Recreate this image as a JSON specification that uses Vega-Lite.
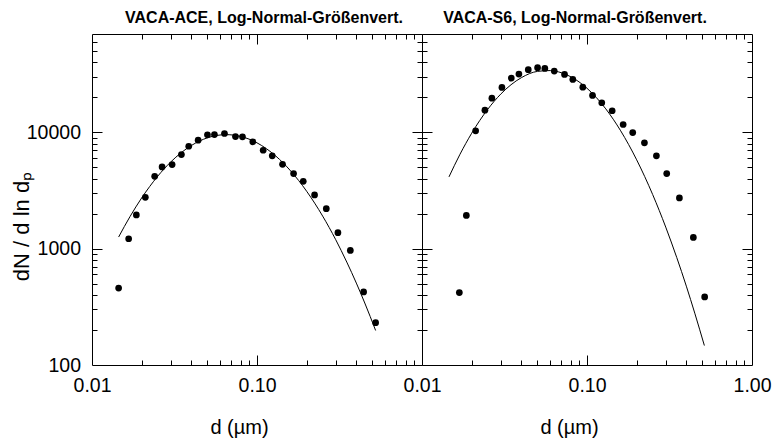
{
  "$schema": "https://vega.github.io/schema/vega-lite/v6.json",
  "background": "white",
  "padding": {"left": 9, "top": 9, "right": 0, "bottom": 0},
  "spacing": 0,
  "bounds": "flush",
  "datasets": {
    "acePts": [
      {"d": 0.0145, "n": 458}, {"d": 0.01668, "n": 1217}, {"d": 0.01857, "n": 1948}, {"d": 0.02105, "n": 2761},
      {"d": 0.02398, "n": 4187}, {"d": 0.02659, "n": 5044}, {"d": 0.03059, "n": 5280}, {"d": 0.03483, "n": 6440},
      {"d": 0.03857, "n": 7593}, {"d": 0.04398, "n": 8551}, {"d": 0.05008, "n": 9517}, {"d": 0.05522, "n": 9573},
      {"d": 0.06352, "n": 9765}, {"d": 0.07405, "n": 9200}, {"d": 0.08166, "n": 9146}, {"d": 0.0943, "n": 8284},
      {"d": 0.109, "n": 7013}, {"d": 0.1237, "n": 6275}, {"d": 0.1428, "n": 5311}, {"d": 0.1666, "n": 4417},
      {"d": 0.1907, "n": 3791}, {"d": 0.2233, "n": 2895}, {"d": 0.263, "n": 2207}, {"d": 0.3093, "n": 1371},
      {"d": 0.3678, "n": 965}, {"d": 0.4428, "n": 425}, {"d": 0.5236, "n": 231}
    ],
    "aceFit": [
      {"d": 0.0145, "n": 1259}, {"d": 0.017, "n": 1888}, {"d": 0.02, "n": 2729}, {"d": 0.025, "n": 4188},
      {"d": 0.03, "n": 5559}, {"d": 0.04, "n": 7701}, {"d": 0.05, "n": 8963}, {"d": 0.065, "n": 9550},
      {"d": 0.08, "n": 9204}, {"d": 0.1, "n": 8120}, {"d": 0.13, "n": 6252}, {"d": 0.16, "n": 4656},
      {"d": 0.2, "n": 3114}, {"d": 0.25, "n": 1905}, {"d": 0.3, "n": 1194}, {"d": 0.35, "n": 767},
      {"d": 0.4, "n": 506}, {"d": 0.45, "n": 341}, {"d": 0.5236, "n": 198}
    ],
    "s6Pts": [
      {"d": 0.01684, "n": 419}, {"d": 0.01857, "n": 1932}, {"d": 0.02114, "n": 10301}, {"d": 0.02406, "n": 15500},
      {"d": 0.02652, "n": 19668}, {"d": 0.03051, "n": 24311}, {"d": 0.03477, "n": 29240}, {"d": 0.03866, "n": 31650},
      {"d": 0.04406, "n": 34540}, {"d": 0.05017, "n": 35940}, {"d": 0.05553, "n": 35440}, {"d": 0.06332, "n": 33600},
      {"d": 0.07309, "n": 31460}, {"d": 0.08204, "n": 28500}, {"d": 0.09432, "n": 24450}, {"d": 0.108, "n": 20750},
      {"d": 0.1229, "n": 17960}, {"d": 0.1421, "n": 15320}, {"d": 0.1656, "n": 11673}, {"d": 0.1893, "n": 9960},
      {"d": 0.2229, "n": 8121}, {"d": 0.2634, "n": 6275}, {"d": 0.3042, "n": 4417}, {"d": 0.3631, "n": 2728},
      {"d": 0.4412, "n": 1249}, {"d": 0.5166, "n": 385}
    ],
    "s6Fit": [
      {"d": 0.01457, "n": 4140}, {"d": 0.017, "n": 6484}, {"d": 0.02, "n": 9817}, {"d": 0.025, "n": 15740},
      {"d": 0.03, "n": 21300}, {"d": 0.04, "n": 29490}, {"d": 0.05, "n": 33380}, {"d": 0.06, "n": 33950},
      {"d": 0.07, "n": 32490}, {"d": 0.08, "n": 29960}, {"d": 0.1, "n": 23910}, {"d": 0.13, "n": 15900},
      {"d": 0.16, "n": 10300}, {"d": 0.2, "n": 5800}, {"d": 0.25, "n": 2919}, {"d": 0.3, "n": 1532},
      {"d": 0.35, "n": 838}, {"d": 0.4, "n": 476}, {"d": 0.45, "n": 279}, {"d": 0.5144, "n": 147}
    ]
  },
  "hconcat": [
    {
      "title": {"text": "VACA-ACE, Log-Normal-Größenvert.", "dx": 7},
      "width": 330,
      "height": 331,
      "resolve": {"axis": {"x": "independent", "y": "independent"}},
      "layer": [
        {
          "data": {"name": "aceFit"},
          "mark": {"type": "line", "color": "black", "strokeWidth": 1, "interpolate": "monotone"},
          "encoding": {
            "x": {"field": "d", "type": "quantitative", "scale": {"type": "log", "domain": [0.01, 1], "nice": false},
                  "axis": {"orient": "bottom", "values": [0.01, 0.1], "format": ".2f", "ticks": false, "labelPadding": 11,
                           "title": "d (µm)", "titleX": 147, "titleY": 68, "titleBaseline": "alphabetic", "titleAlign": "center"}},
            "y": {"field": "n", "type": "quantitative", "scale": {"type": "log", "domain": [100, 70000], "nice": false},
                  "axis": {"orient": "left", "values": [100, 1000, 10000], "format": "d", "ticks": false, "labelPadding": 11.5,
                           "title": "dN / d ln dₚ", "titleFontSize": 22, "titleX": -64, "titleY": 192, "titleBaseline": "alphabetic", "titleAlign": "center"}}
          }
        },
        {
          "data": {"name": "acePts"},
          "mark": {"type": "circle", "color": "black", "opacity": 1, "size": 45},
          "encoding": {
            "x": {"field": "d", "type": "quantitative", "scale": {"type": "log", "domain": [0.01, 1], "nice": false},
                  "axis": {"orient": "bottom", "values": [0.02, 0.03, 0.04, 0.05, 0.06, 0.07, 0.08, 0.09, 0.2, 0.3, 0.4, 0.5, 0.6, 0.7, 0.8, 0.9], "labels": false, "tickSize": -5, "title": null}},
            "y": {"field": "n", "type": "quantitative", "scale": {"type": "log", "domain": [100, 70000], "nice": false},
                  "axis": {"orient": "left", "values": [200, 300, 400, 500, 600, 700, 800, 900, 2000, 3000, 4000, 5000, 6000, 7000, 8000, 9000, 20000, 30000, 40000, 50000, 60000], "labels": false, "tickSize": -5, "title": null}}
          }
        },
        {
          "data": {"name": "acePts"},
          "mark": {"type": "circle", "opacity": 0},
          "encoding": {
            "x": {"field": "d", "type": "quantitative", "scale": {"type": "log", "domain": [0.01, 1], "nice": false},
                  "axis": {"orient": "bottom", "values": [0.1], "labels": false, "tickSize": -10, "title": null}},
            "y": {"field": "n", "type": "quantitative", "scale": {"type": "log", "domain": [100, 70000], "nice": false},
                  "axis": {"orient": "left", "values": [1000, 10000], "labels": false, "tickSize": -10, "title": null}}
          }
        },
        {
          "data": {"name": "acePts"},
          "mark": {"type": "circle", "opacity": 0},
          "encoding": {
            "x": {"field": "d", "type": "quantitative", "scale": {"type": "log", "domain": [0.01, 1], "nice": false},
                  "axis": {"orient": "top", "values": [0.02, 0.03, 0.04, 0.05, 0.06, 0.07, 0.08, 0.09, 0.2, 0.3, 0.4, 0.5, 0.6, 0.7, 0.8, 0.9], "labels": false, "tickSize": -5, "title": null}},
            "y": {"field": "n", "type": "quantitative", "scale": {"type": "log", "domain": [100, 70000], "nice": false},
                  "axis": {"orient": "right", "values": [200, 300, 400, 500, 600, 700, 800, 900, 2000, 3000, 4000, 5000, 6000, 7000, 8000, 9000, 20000, 30000, 40000, 50000, 60000], "labels": false, "tickSize": -5, "title": null}}
          }
        },
        {
          "data": {"name": "acePts"},
          "mark": {"type": "circle", "opacity": 0},
          "encoding": {
            "x": {"field": "d", "type": "quantitative", "scale": {"type": "log", "domain": [0.01, 1], "nice": false},
                  "axis": {"orient": "top", "values": [0.1], "labels": false, "tickSize": -10, "title": null}},
            "y": {"field": "n", "type": "quantitative", "scale": {"type": "log", "domain": [100, 70000], "nice": false},
                  "axis": {"orient": "right", "values": [1000, 10000], "labels": false, "tickSize": -10, "title": null}}
          }
        }
      ]
    },
    {
      "title": {"text": "VACA-S6, Log-Normal-Größenvert.", "dx": -12},
      "width": 330,
      "height": 331,
      "resolve": {"axis": {"x": "independent", "y": "independent"}},
      "layer": [
        {
          "data": {"name": "s6Fit"},
          "mark": {"type": "line", "color": "black", "strokeWidth": 1, "interpolate": "monotone"},
          "encoding": {
            "x": {"field": "d", "type": "quantitative", "scale": {"type": "log", "domain": [0.01, 1], "nice": false},
                  "axis": {"orient": "bottom", "values": [0.01, 0.1, 1], "format": ".2f", "ticks": false, "labelPadding": 11,
                           "title": "d (µm)", "titleX": 147, "titleY": 68, "titleBaseline": "alphabetic", "titleAlign": "center"}},
            "y": {"field": "n", "type": "quantitative", "scale": {"type": "log", "domain": [100, 70000], "nice": false},
                  "axis": null}
          }
        },
        {
          "data": {"name": "s6Pts"},
          "mark": {"type": "circle", "color": "black", "opacity": 1, "size": 45},
          "encoding": {
            "x": {"field": "d", "type": "quantitative", "scale": {"type": "log", "domain": [0.01, 1], "nice": false},
                  "axis": {"orient": "bottom", "values": [0.02, 0.03, 0.04, 0.05, 0.06, 0.07, 0.08, 0.09, 0.2, 0.3, 0.4, 0.5, 0.6, 0.7, 0.8, 0.9], "labels": false, "tickSize": -5, "title": null}},
            "y": {"field": "n", "type": "quantitative", "scale": {"type": "log", "domain": [100, 70000], "nice": false},
                  "axis": {"orient": "left", "values": [200, 300, 400, 500, 600, 700, 800, 900, 2000, 3000, 4000, 5000, 6000, 7000, 8000, 9000, 20000, 30000, 40000, 50000, 60000], "labels": false, "tickSize": -5, "title": null}}
          }
        },
        {
          "data": {"name": "s6Pts"},
          "mark": {"type": "circle", "opacity": 0},
          "encoding": {
            "x": {"field": "d", "type": "quantitative", "scale": {"type": "log", "domain": [0.01, 1], "nice": false},
                  "axis": {"orient": "bottom", "values": [0.1], "labels": false, "tickSize": -10, "title": null}},
            "y": {"field": "n", "type": "quantitative", "scale": {"type": "log", "domain": [100, 70000], "nice": false},
                  "axis": {"orient": "left", "values": [1000, 10000], "labels": false, "tickSize": -10, "title": null}}
          }
        },
        {
          "data": {"name": "s6Pts"},
          "mark": {"type": "circle", "opacity": 0},
          "encoding": {
            "x": {"field": "d", "type": "quantitative", "scale": {"type": "log", "domain": [0.01, 1], "nice": false},
                  "axis": {"orient": "top", "values": [0.02, 0.03, 0.04, 0.05, 0.06, 0.07, 0.08, 0.09, 0.2, 0.3, 0.4, 0.5, 0.6, 0.7, 0.8, 0.9], "labels": false, "tickSize": -5, "title": null}},
            "y": {"field": "n", "type": "quantitative", "scale": {"type": "log", "domain": [100, 70000], "nice": false},
                  "axis": {"orient": "right", "values": [200, 300, 400, 500, 600, 700, 800, 900, 2000, 3000, 4000, 5000, 6000, 7000, 8000, 9000, 20000, 30000, 40000, 50000, 60000], "labels": false, "tickSize": -5, "title": null}}
          }
        },
        {
          "data": {"name": "s6Pts"},
          "mark": {"type": "circle", "opacity": 0},
          "encoding": {
            "x": {"field": "d", "type": "quantitative", "scale": {"type": "log", "domain": [0.01, 1], "nice": false},
                  "axis": {"orient": "top", "values": [0.1], "labels": false, "tickSize": -10, "title": null}},
            "y": {"field": "n", "type": "quantitative", "scale": {"type": "log", "domain": [100, 70000], "nice": false},
                  "axis": {"orient": "right", "values": [1000, 10000], "labels": false, "tickSize": -10, "title": null}}
          }
        }
      ]
    }
  ],
  "config": {
    "view": {"stroke": "black", "strokeWidth": 1},
    "font": "Liberation Sans",
    "title": {"font": "Liberation Sans", "fontSize": 16, "fontWeight": "bold", "color": "black", "anchor": "middle", "offset": 8, "baseline": "alphabetic"},
    "axis": {
      "grid": false, "domain": false, "tickColor": "black", "tickWidth": 1,
      "labelColor": "black", "titleColor": "black",
      "labelFont": "Liberation Sans", "titleFont": "Liberation Sans",
      "labelFontSize": 19.5, "titleFontSize": 20, "titleFontWeight": "normal",
      "labelFlush": false, "labelOverlap": false
    }
  }
}
